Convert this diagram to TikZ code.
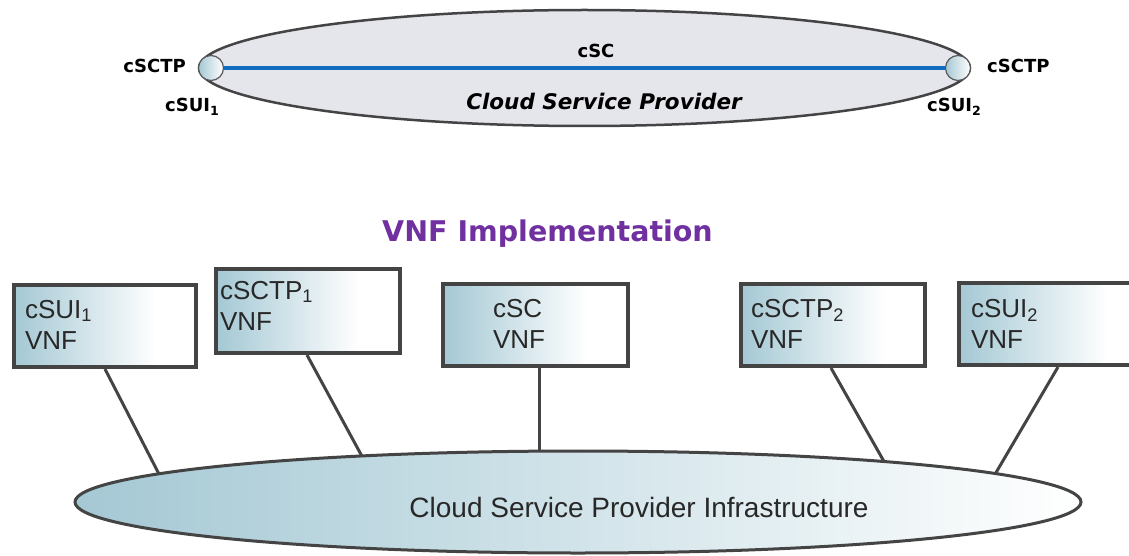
\documentclass[tikz,border=0pt]{standalone}
\usepackage{fontspec}
\setmainfont{Liberation Sans}
\newfontfamily\vfont{DejaVu Sans}
\usetikzlibrary{shapes.geometric,calc}
\definecolor{boxblue}{RGB}{164,200,212}
\definecolor{lensfill}{RGB}{229,229,236}
\definecolor{edgegray}{RGB}{68,68,68}
\definecolor{linkblue}{RGB}{16,108,190}
\definecolor{vnfpurple}{RGB}{112,48,160}
\definecolor{textgray}{RGB}{40,40,40}
\pgfdeclarehorizontalshading{boxshade}{100bp}{color(0bp)=(boxblue); color(25bp)=(boxblue); color(64bp)=(white); color(100bp)=(white)}
\begin{document}
\begin{tikzpicture}[x=1pt,y=-1pt,
  vnfbox/.style={rectangle, draw=edgegray, line width=4pt, shading=boxshade, anchor=north west, inner ysep=0pt, align=left, text=textgray, font=\fontsize{26}{31}\selectfont},
  link/.style={draw=edgegray, line width=3pt},
  port/.style={circle, draw=gray!70!black, line width=1.2pt, minimum size=25pt, inner sep=0pt, left color=boxblue, right color=white},
  toplabel/.style={font=\vfont\bfseries\fontsize{18}{20}\selectfont, inner sep=0pt, text=black},
]
\useasboundingbox (0,0) rectangle (1129,556);
\clip (0,0) rectangle (1129,556);

% top cloud service
\node[ellipse, draw=edgegray, line width=2.5pt, fill=lensfill, minimum width=771pt, minimum height=116pt, inner sep=0pt] (csp) at (584.5,68) {};
\node[port] (p1) at (211,68) {};
\node[port] (p2) at (958,68) {};
\draw[linkblue, line width=4.5pt] (p1) -- (p2);
\node[toplabel, anchor=base east] (l1) at (186,73) {cSCTP};
\node[toplabel, anchor=base west] (l2) at (165,112) {cSUI\textsubscript{1}};
\node[toplabel, anchor=base west] (l3) at (987,73) {cSCTP};
\node[toplabel, anchor=base west] (l4) at (927,112) {cSUI\textsubscript{2}};
\node[toplabel, anchor=base] (lsc) at (596,58) {cSC};
\node[font=\vfont\bfseries\itshape\fontsize{21.5}{24}\selectfont, anchor=base, inner sep=0pt] (cspl) at (604,110) {Cloud Service Provider};

\node[font=\vfont\bfseries\fontsize{28.5}{30}\selectfont, text=vnfpurple, anchor=base, inner sep=0pt] (impl) at (547.5,241) {VNF Implementation};

% VNF boxes
\node[vnfbox, text width=160pt, inner xsep=11pt, text height=33pt, text depth=49pt] (b1) at (12,283) {cSUI\textsubscript{1}\\VNF};
\node[vnfbox, text width=176pt, inner xsep=4pt, text height=30pt, text depth=54pt] (b2) at (214,267) {cSCTP\textsubscript{1}\\VNF};
\node[vnfbox, text width=85pt, inner xsep=50pt, text height=33pt, text depth=49pt] (b3) at (441,282) {cSC\\VNF};
\node[vnfbox, text width=164pt, inner xsep=10pt, text height=33pt, text depth=49pt] (b4) at (739,282) {cSCTP\textsubscript{2}\\VNF};
\node[vnfbox, text width=166pt, inner xsep=12pt, text height=34pt, text depth=48pt] (b5) at (957,281) {cSUI\textsubscript{2}\\VNF};

% attachment points on infrastructure
\coordinate (e1) at (160,476);
\coordinate (e2) at (364,460);
\coordinate (e3) at (539,456);
\coordinate (e4) at (886,465);
\coordinate (e5) at (994,476);
\draw[link] ($(b1.south west)+(93,0)$) -- (e1);
\draw[link] ($(b2.south west)+(93,0)$) -- (e2);
\draw[link] ($(b3.south west)+(98,0)$) -- (e3);
\draw[link] ($(b4.south west)+(92,0)$) -- (e4);
\draw[link] ($(b5.south west)+(101,0)$) -- (e5);

\node[ellipse, draw=edgegray, line width=3pt, left color=boxblue, right color=white, minimum width=1006pt, minimum height=102pt, inner sep=0pt, text height=32pt, text depth=2pt, font=\fontsize{28}{30}\selectfont, text=textgray] (infra) at (578,502) {\hspace*{122pt}Cloud Service Provider Infrastructure};
\end{tikzpicture}
\end{document}
